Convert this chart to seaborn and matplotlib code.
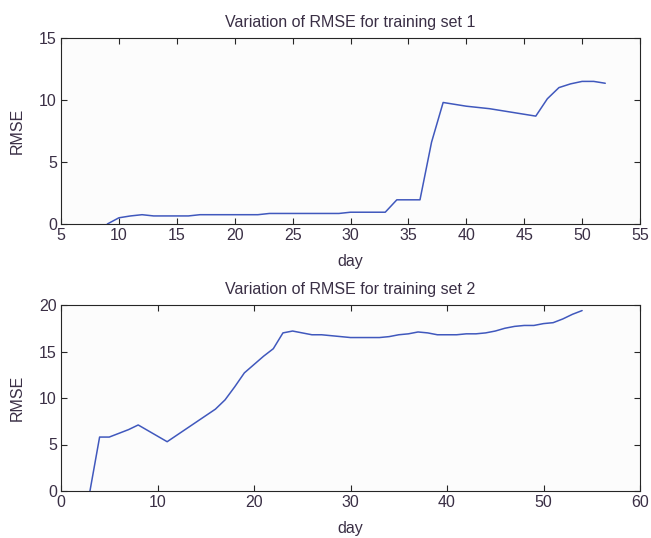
import numpy as np
import pandas as pd
import matplotlib
matplotlib.use("Agg")
import matplotlib.pyplot as plt
import seaborn as sns

# RMSE per day, training set 1
day_set1 = [9, 10, 11, 12, 13, 14, 15, 16, 17, 18, 19, 20, 21, 22, 23, 24, 25,
            26, 27, 28, 29, 30, 31, 32, 33, 34, 35, 36, 37, 38, 39, 40, 41, 42,
            43, 44, 45, 46, 47, 48, 49, 50, 51, 52]
rmse_set1 = [0.0, 0.5, 0.65, 0.75, 0.65, 0.65, 0.65, 0.65, 0.75, 0.75, 0.75, 0.75,
             0.75, 0.75, 0.85, 0.85, 0.85, 0.85, 0.85, 0.85, 0.85, 0.95, 0.95, 0.95,
             0.95, 1.95, 1.95, 1.95, 6.6, 9.8, 9.65, 9.5, 9.4, 9.3, 9.15, 9.0, 8.85,
             8.7, 10.1, 11.0, 11.3, 11.5, 11.5, 11.35]

# RMSE per day, training set 2
day_set2 = list(range(3, 55))
rmse_set2 = [0.0, 5.8, 5.8, 6.2, 6.6, 7.1, 6.5, 5.9, 5.3, 6.0, 6.7, 7.4, 8.1, 8.8,
             9.8, 11.2, 12.7, 13.6, 14.5, 15.3, 17.0, 17.2, 17.0, 16.8, 16.8, 16.7,
             16.6, 16.5, 16.5, 16.5, 16.5, 16.6, 16.8, 16.9, 17.1, 17.0, 16.8, 16.8,
             16.8, 16.9, 16.9, 17.0, 17.2, 17.5, 17.7, 17.8, 17.8, 18.0, 18.1, 18.5,
             19.0, 19.4]

titles = ["Variation of RMSE for training set 1", "Variation of RMSE for training set 2"]
x_limits = [(5, 55), (0, 60)]
y_limits = [(0, 15), (0, 20)]
x_ticks = [list(range(5, 60, 5)), list(range(0, 70, 10))]
y_ticks = [[0, 5, 10, 15], [0, 5, 10, 15, 20]]

sns.set_style("white", {
    "xtick.direction": "in",
    "ytick.direction": "in",
    "axes.edgecolor": "#262626",
    "axes.facecolor": "#fcfcfc",
})
plt.rcParams["font.family"] = ["Liberation Sans", "DejaVu Sans"]
text_color = "#3a2f45"
fs = 11.5

fig = plt.figure(figsize=(6.51, 5.38), dpi=100)
W, H = 651, 538
boxes = [(61, 38, 640, 224), (61, 305, 640, 491)]
frames = [pd.DataFrame({"day": day_set1, "RMSE": rmse_set1}),
          pd.DataFrame({"day": day_set2, "RMSE": rmse_set2})]

for i, (l, t, r, b) in enumerate(boxes):
    ax = fig.add_axes([l / W, 1 - b / H, (r - l) / W, (b - t) / H])
    sns.lineplot(data=frames[i], x="day", y="RMSE", ax=ax,
                 color="#4058bd", linewidth=1.1)
    ax.set_xlim(*x_limits[i])
    ax.set_ylim(*y_limits[i])
    ax.set_xticks(x_ticks[i])
    ax.set_yticks(y_ticks[i])
    ax.tick_params(axis="both", which="both", direction="in", top=True, right=True,
                   bottom=True, left=True, length=4, width=0.8, colors="#262626",
                   labelcolor=text_color, labelsize=fs, pad=3)
    for s in ax.spines.values():
        s.set_linewidth(0.8)
    ax.set_title(titles[i], fontsize=fs, color=text_color, pad=8)
    ax.set_xlabel("day", fontsize=fs, color=text_color, labelpad=8)
    ax.set_ylabel("RMSE", fontsize=fs, color=text_color, labelpad=10)

fig.savefig("out.png", dpi=100, facecolor="white")
